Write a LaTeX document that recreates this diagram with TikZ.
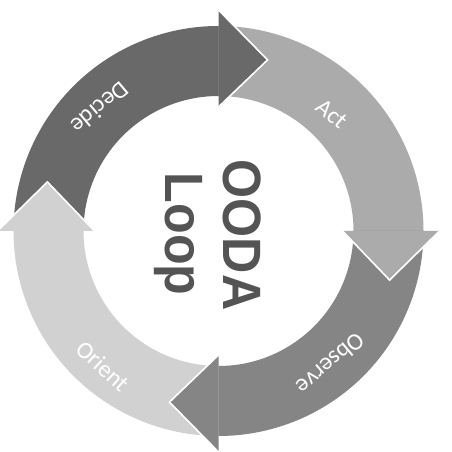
\documentclass[tikz,border=0pt]{standalone}
\usepackage{fontspec}
\setmainfont{Liberation Sans}
\newfontfamily\lblfont{Carlito}
\usepackage{graphicx}
\definecolor{decideC}{gray}{0.41}
\definecolor{actC}{gray}{0.67}
\definecolor{observeC}{gray}{0.52}
\definecolor{orientC}{gray}{0.82}
\definecolor{titleC}{gray}{0.33}
\newcommand\OODAbody[3]{\fill[#3] (#1:205pt) arc[start angle=#1, end angle=#2, radius=205pt] -- (#2:135pt) arc[start angle=#2, end angle=#1, radius=135pt] -- cycle;}
\newcommand\OODAhead[2]{\fill[#2] (#1:221pt) -- ({#1-16}:178pt) -- (#1:124pt) -- cycle;
  \draw[headedge] (#1:221pt) -- ({#1-16}:178pt) -- (#1:124pt);}
\begin{document}
\begin{tikzpicture}[x=1pt,y=1pt,
  headedge/.style={draw=white, line width=1.6pt, line join=miter},
  lbl/.style={text=white, font=\lblfont\fontsize{24}{26}\selectfont, inner sep=0pt},
  titletext/.style={text=titleC, font=\bfseries\fontsize{54}{60}\selectfont, inner sep=0pt, anchor=base, rotate=-90}]
\useasboundingbox[fill=white] (0,0) rectangle (451,452);
\begin{scope}[shift={(218.5,221)}]
  \OODAbody{180}{89}{decideC}
  \OODAbody{90}{-1}{actC}
  \OODAbody{0}{-91}{observeC}
  \OODAbody{-90}{-181}{orientC}
  \OODAhead{90}{decideC}
  \OODAhead{0}{actC}
  \OODAhead{-90}{observeC}
  \OODAhead{-180}{orientC}
\end{scope}
\node[lbl, rotate=220] (decide) at (100,344) {Decide};
\node[lbl, rotate=-40] (act) at (332,338) {Act};
\node[lbl, rotate=220] (observe) at (331,88) {Observe};
\node[lbl, rotate=-42] (orient) at (103,86) {Orient};
\node[titletext] (ooda) at (223,217) {\scalebox{0.93}[1]{OODA}};
\node[titletext] (loop) at (165,218) {\scalebox{0.93}[1]{Loop}};
\end{tikzpicture}
\end{document}
